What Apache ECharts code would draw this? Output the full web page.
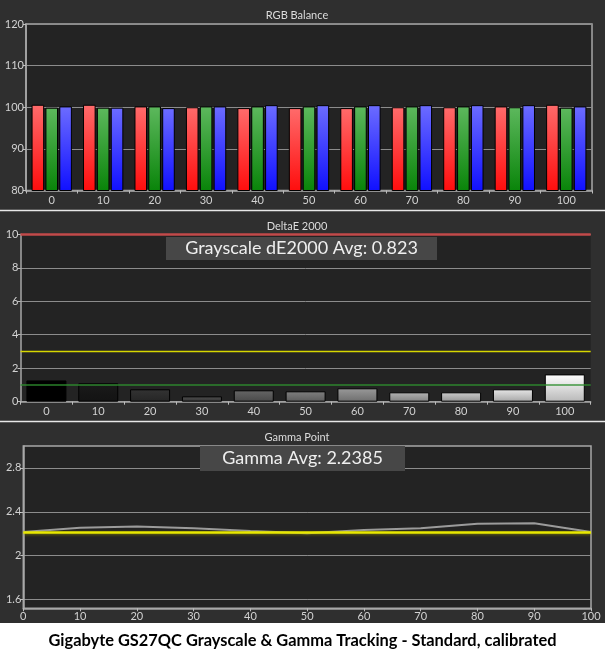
<!DOCTYPE html>
<html>
<head>
<meta charset="utf-8">
<script src="https://cdn.jsdelivr.net/npm/echarts@6/dist/echarts.min.js"></script>
<style>
  html, body { margin: 0; padding: 0; background: #fff; }
  #main { width: 605px; height: 652px; }
</style>
</head>
<body>
<div id="main"></div>
<script>
// grayscale steps (%)
var levels = ['0', '10', '20', '30', '40', '50', '60', '70', '80', '90', '100'];

// RGB Balance
var redVals = [100.6, 100.6, 100.2, 100.0, 99.8, 99.8, 99.8, 100.0, 100.0, 100.2, 100.6];
var greenVals = [99.9, 99.9, 100.2, 100.2, 100.2, 100.2, 100.2, 100.2, 100.2, 100.0, 99.9];
var blueVals = [100.2, 99.9, 99.8, 100.2, 100.5, 100.5, 100.5, 100.5, 100.5, 100.5, 100.2];

// DeltaE 2000
var deltaVals = [1.27, 1.10, 0.74, 0.32, 0.68, 0.62, 0.80, 0.56, 0.56, 0.74, 1.63];
var deltaLimits = [10, 3, 1];
var deltaAvgText = 'Grayscale dE2000 Avg: 0.823';

// Gamma Point
var gammaX = [0, 10, 20, 30, 40, 50, 60, 70, 80, 90, 100];
var gammaVals = [2.215, 2.255, 2.265, 2.25, 2.225, 2.205, 2.235, 2.25, 2.29, 2.295, 2.215];
var gammaTarget = 2.215;
var gammaTicks = [1.6, 2, 2.4, 2.8];
var gammaAvgText = 'Gamma Avg: 2.2385';

var caption = 'Gigabyte GS27QC Grayscale & Gamma Tracking - Standard, calibrated';

var FONT = 'Lato, "Noto Sans", sans-serif';
var LABEL_COLOR = '#d2d2d2';
var AXIS_COLOR = '#a8a8a8';
var SPLIT_COLOR = '#8c8c8c';
var PLOT_BG = '#232323';

function grad(top, bottom) {
  return new echarts.graphic.LinearGradient(0, 0, 0, 1, [
    { offset: 0, color: top },
    { offset: 1, color: bottom }
  ]);
}

function grayBar(i) {
  // bar shade follows the grayscale step
  var v = Math.round(255 * i / (levels.length - 1));
  var b = Math.round(v * 0.72);
  var top = 'rgb(' + v + ',' + v + ',' + v + ')';
  var bottom = 'rgb(' + b + ',' + b + ',' + b + ')';
  return grad(top, bottom);
}

function xCat(gridIndex) {
  return {
    gridIndex: gridIndex,
    type: 'category',
    data: levels,
    axisLine: { show: true, lineStyle: { color: AXIS_COLOR, width: 1.5 } },
    axisTick: { show: true, interval: 0, length: 3, lineStyle: { color: '#bdbdbd' } },
    axisLabel: { color: LABEL_COLOR, fontSize: 11, fontFamily: FONT, margin: 4, interval: 0 },
    splitLine: { show: false }
  };
}

function yVal(gridIndex, min, max, interval) {
  return {
    gridIndex: gridIndex,
    type: 'value',
    min: min,
    max: max,
    interval: interval,
    axisLine: { show: true, lineStyle: { color: AXIS_COLOR, width: 1.5 } },
    axisTick: { show: true, length: 3, lineStyle: { color: '#bdbdbd' } },
    axisLabel: { color: LABEL_COLOR, fontSize: 11, fontFamily: FONT, margin: 2 },
    splitLine: { show: true, lineStyle: { color: SPLIT_COLOR, width: 1 } }
  };
}

function rgbSeries(name, data, top, bottom) {
  return {
    name: name,
    type: 'bar',
    xAxisIndex: 0,
    yAxisIndex: 0,
    data: data,
    barWidth: 12.6,
    barGap: '10%',
    clip: true,
    itemStyle: { color: grad(top, bottom), borderColor: '#000', borderWidth: 1 },
    silent: true
  };
}

function getOption() {
  var gammaY = yVal(2, 1.52, 3.0, null);
  delete gammaY.interval;
  gammaY.axisLabel.customValues = gammaTicks;
  gammaY.axisTick.customValues = gammaTicks;

  var option = {
    animation: false,
    backgroundColor: '#2f2f2f',
    textStyle: { fontFamily: FONT },
    grid: [
      { left: 26, top: 24, width: 566, height: 166.5, show: true, backgroundColor: PLOT_BG, borderColor: AXIS_COLOR, borderWidth: 1.5, outerBoundsMode: 'none' },
      { left: 20.5, top: 234.3, width: 570.2, height: 167.4, show: true, backgroundColor: PLOT_BG, borderWidth: 0, outerBoundsMode: 'none' },
      { left: 23.3, top: 446, width: 567.7, height: 162.3, show: true, backgroundColor: PLOT_BG, borderColor: AXIS_COLOR, borderWidth: 1.5, outerBoundsMode: 'none' }
    ],
    xAxis: [
      xCat(0),
      xCat(1),
      {
        gridIndex: 2,
        type: 'value',
        min: 0,
        max: 100,
        interval: 10,
        axisLine: { show: true, lineStyle: { color: AXIS_COLOR, width: 1.5 } },
        axisTick: { show: true, length: 3, lineStyle: { color: '#bdbdbd' } },
        axisLabel: { color: LABEL_COLOR, fontSize: 11, fontFamily: FONT, margin: 3 },
        splitLine: { show: false }
      }
    ],
    yAxis: [
      yVal(0, 80, 120, 10),
      yVal(1, 0, 10, 2),
      gammaY
    ],
    series: [
      rgbSeries('R', redVals, '#ff6b6b', '#ff0d0d'),
      rgbSeries('G', greenVals, '#5db85d', '#098409'),
      rgbSeries('B', blueVals, '#6c6cff', '#1010ff'),
      {
        name: 'dE2000',
        type: 'bar',
        xAxisIndex: 1,
        yAxisIndex: 1,
        barWidth: 40,
        silent: true,
        data: deltaVals.map(function (v, i) {
          return { value: v, itemStyle: { color: grayBar(i), borderColor: '#000', borderWidth: 1 } };
        }),
        markLine: {
          silent: true,
          symbol: 'none',
          label: { show: false },
          data: [
            { yAxis: deltaLimits[0], lineStyle: { color: '#c24a4a', width: 2.5, type: 'solid' } },
            { yAxis: deltaLimits[1], lineStyle: { color: '#d6d600', width: 1.3, type: 'solid' } },
            { yAxis: deltaLimits[2], lineStyle: { color: '#2f8f2f', width: 1.5, type: 'solid', opacity: 0.9 } }
          ]
        }
      },
      {
        name: 'Gamma',
        type: 'line',
        xAxisIndex: 2,
        yAxisIndex: 2,
        symbol: 'none',
        silent: true,
        data: gammaX.map(function (x, i) { return [x, gammaVals[i]]; }),
        lineStyle: { color: '#9b9b9b', width: 2 },
        markLine: {
          silent: true,
          symbol: 'none',
          label: { show: false },
          data: [
            { yAxis: gammaTarget, lineStyle: { color: '#e8e800', width: 2.5, type: 'solid', shadowColor: 'rgba(150,150,0,0.6)', shadowBlur: 3, shadowOffsetY: 1 } }
          ]
        }
      }
    ],
    graphic: [
      { type: 'line', z: 50, shape: { x1: 0, y1: 210.5, x2: 605, y2: 210.5 }, style: { stroke: '#e8e8e8', lineWidth: 1.5 } },
      { type: 'line', z: 50, shape: { x1: 0, y1: 421.5, x2: 605, y2: 421.5 }, style: { stroke: '#e8e8e8', lineWidth: 1.5 } },
      { type: 'text', z: 50, x: 297, y: 15, style: { text: 'RGB Balance', font: '11px ' + FONT, fill: '#dcdcdc', align: 'center', verticalAlign: 'middle' } },
      { type: 'text', z: 50, x: 297, y: 226, style: { text: 'DeltaE 2000', font: '11px ' + FONT, fill: '#dcdcdc', align: 'center', verticalAlign: 'middle' } },
      { type: 'text', z: 50, x: 297, y: 437.5, style: { text: 'Gamma Point', font: '11px ' + FONT, fill: '#dcdcdc', align: 'center', verticalAlign: 'middle' } },
      { type: 'rect', z: 50, shape: { x: 166, y: 237, width: 271, height: 23 }, style: { fill: '#474747' } },
      { type: 'text', z: 51, x: 301.5, y: 248.5, style: { text: deltaAvgText, font: '18px ' + FONT, fill: '#efefef', align: 'center', verticalAlign: 'middle' } },
      { type: 'rect', z: 50, shape: { x: 200, y: 446, width: 205, height: 25 }, style: { fill: '#474747' } },
      { type: 'text', z: 51, x: 302.5, y: 458.5, style: { text: gammaAvgText, font: '18px ' + FONT, fill: '#efefef', align: 'center', verticalAlign: 'middle' } },
      { type: 'rect', z: 50, shape: { x: 0, y: 623, width: 605, height: 29 }, style: { fill: '#ffffff' } },
      { type: 'text', z: 51, x: 302.5, y: 640.5, style: { text: caption, font: 'bold 16.4px ' + FONT, fill: '#000', align: 'center', verticalAlign: 'middle' } }
    ]
  };
  return option;
}

var chart = echarts.init(document.getElementById('main'), null, { renderer: 'canvas' });
chart.setOption(getOption());
</script>
</body>
</html>
